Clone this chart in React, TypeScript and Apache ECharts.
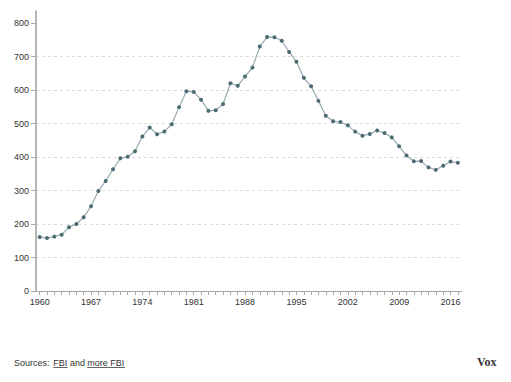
import React, { useEffect, useRef } from "react";
import * as echarts from "echarts";

const years: string[] = [];
for (let y = 1960; y <= 2017; y++) years.push(String(y));

const rates: number[] = [
  160.9, 158.1, 162.3, 168.2, 190.6, 200.2, 220.0, 253.2, 298.4, 328.7,
  363.5, 396.0, 401.0, 417.4, 461.1, 487.8, 467.8, 475.9, 497.8, 548.9,
  596.6, 594.3, 571.1, 537.7, 539.9, 558.1, 620.1, 612.5, 640.6, 666.9,
  729.6, 758.2, 757.7, 747.1, 713.6, 684.5, 636.6, 611.0, 567.6, 523.0,
  506.5, 504.5, 494.4, 475.8, 463.2, 469.0, 479.3, 471.8, 458.6, 431.9,
  404.5, 387.1, 387.8, 369.1, 361.6, 373.7, 386.3, 382.9,
];

const yTicks: number[] = [0, 100, 200, 300, 400, 500, 600, 700, 800];

const FONT = "'Liberation Sans', Arial, sans-serif";

export default function App() {
  const ref = useRef<HTMLDivElement>(null);
  useEffect(() => {
    if (!ref.current) return;
    const chart = echarts.init(ref.current, null, { renderer: "svg" });
    chart.setOption({
      animation: false,
      backgroundColor: "#ffffff",
      grid: { left: 36, right: 49.5, top: 11.3, bottom: 91, containLabel: false },
      xAxis: {
        type: "category",
        data: years,
        boundaryGap: true,
        axisLine: { lineStyle: { color: "#a8a8a8", width: 1 } },
        axisTick: {
          show: true,
          interval: 0,
          alignWithLabel: true,
          length: 4,
          lineStyle: { color: "#a8a8a8" },
        },
        axisLabel: {
          interval: 6,
          color: "#333",
          fontSize: 9,
          fontFamily: FONT,
          margin: 6,
        },
        splitLine: { show: false },
      },
      yAxis: {
        type: "value",
        min: 0,
        max: 835,
        interval: 100,
        axisLine: { show: true, lineStyle: { color: "#b5b5b5", width: 2 } },
        axisTick: {
          show: true,
          length: 5,
          customValues: yTicks,
          lineStyle: { color: "#a8a8a8" },
        },
        axisLabel: {
          customValues: yTicks,
          color: "#333",
          fontSize: 9,
          fontFamily: FONT,
          margin: 7,
        },
        splitLine: {
          show: true,
          showMinLine: false,
          showMaxLine: false,
          lineStyle: { color: "#dcdcdc", type: [3, 3], width: 1 },
        },
      },
      series: [
        {
          type: "line",
          data: rates,
          symbol: "circle",
          symbolSize: 4,
          showSymbol: true,
          lineStyle: { color: "#98aaae", width: 1.2 },
          itemStyle: { color: "#4c6b72" },
        },
      ],
      graphic: [
        {
          type: "text",
          x: 14,
          y: 363,
          style: { text: "Sources:", fill: "#333", font: `9px ${FONT}`, textVerticalAlign: "middle" },
        },
        {
          type: "text",
          x: 53.3,
          y: 363,
          style: { text: "FBI", fill: "#333", font: `9px ${FONT}`, textVerticalAlign: "middle" },
        },
        { type: "line", shape: { x1: 53.3, y1: 367.5, x2: 67.7, y2: 367.5 }, style: { stroke: "#666", lineWidth: 1 } },
        {
          type: "text",
          x: 70,
          y: 363,
          style: { text: "and", fill: "#333", font: `9px ${FONT}`, textVerticalAlign: "middle" },
        },
        {
          type: "text",
          x: 87.3,
          y: 363,
          style: { text: "more FBI", fill: "#333", font: `9px ${FONT}`, textVerticalAlign: "middle" },
        },
        { type: "line", shape: { x1: 87.3, y1: 367.5, x2: 125, y2: 367.5 }, style: { stroke: "#666", lineWidth: 1 } },
        {
          type: "text",
          x: 477,
          y: 362,
          style: {
            text: "Vox",
            fill: "#333",
            font: "bold 12px 'Liberation Serif', 'DejaVu Serif', serif",
            textVerticalAlign: "middle",
          },
        },
      ],
    });
    return () => chart.dispose();
  }, []);
  return <div ref={ref} style={{ width: 511, height: 382, position: "absolute", left: 0, top: 0 }} />;
}
